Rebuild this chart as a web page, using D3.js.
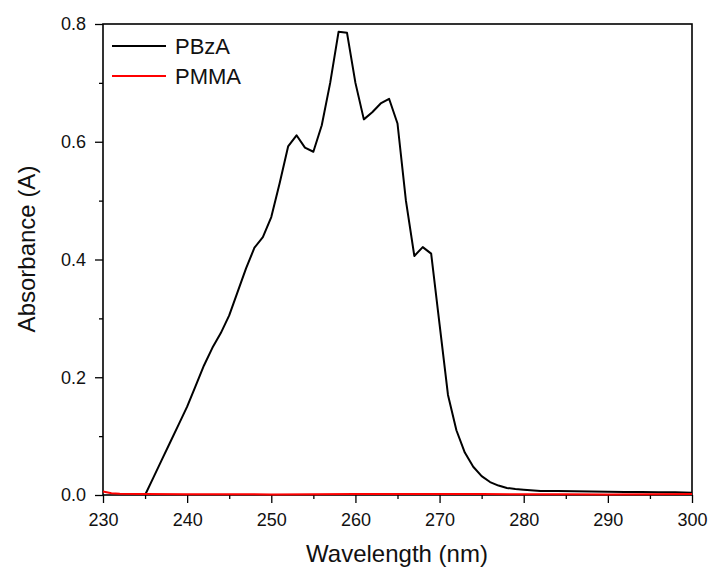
<!DOCTYPE html>
<html>
<head>
<meta charset="utf-8">
<script src="https://cdn.jsdelivr.net/npm/d3@7"></script>
<style>
  body { margin: 0; background: #fff; }
  svg { font-family: "Liberation Sans", Arial, sans-serif; }
</style>
</head>
<body>
<div id="chart"></div>
<script>
// Wavelength (nm) and absorbance values
const pbzaWave = [235, 236, 237, 238, 239, 240, 241, 242, 243, 244, 245, 246, 247, 248, 249,
  250, 251, 252, 253, 254, 255, 256, 257, 258, 259, 260, 261, 262, 263, 264, 265, 266, 267,
  268, 269, 270, 271, 272, 273, 274, 275, 276, 277, 278, 279, 280, 282, 284, 286, 288, 290,
  292, 294, 296, 298, 300];
const pbzaAbs = [0.0, 0.03, 0.06, 0.09, 0.12, 0.15, 0.185, 0.22, 0.25, 0.275, 0.305, 0.345,
  0.385, 0.42, 0.438, 0.472, 0.53, 0.592, 0.611, 0.59, 0.583, 0.628, 0.70, 0.787, 0.785,
  0.70, 0.638, 0.65, 0.665, 0.673, 0.631, 0.50, 0.406, 0.421, 0.41, 0.29, 0.17, 0.11, 0.072,
  0.048, 0.032, 0.022, 0.016, 0.012, 0.010, 0.009, 0.007, 0.007, 0.0065, 0.006, 0.0055,
  0.005, 0.005, 0.0045, 0.0045, 0.004];

const pmmaWave = [230, 231, 232, 235, 240, 245, 250, 255, 260, 265, 270, 275, 280, 285, 290,
  295, 300];
const pmmaAbs = [0.006, 0.003, 0.002, 0.0015, 0.0012, 0.0012, 0.001, 0.0012, 0.0015, 0.0018,
  0.0015, 0.0015, 0.0012, 0.0012, 0.001, 0.0012, 0.0015];

const seriesNames = ["PBzA", "PMMA"];
const seriesColors = ["#000000", "#ff0000"];

const xTicks = [230, 240, 250, 260, 270, 280, 290, 300];
const yTicks = [0.0, 0.2, 0.4, 0.6, 0.8];

const W = 709, H = 569;
const margin = { top: 24, right: 17, bottom: 74, left: 103 };
const width = W - margin.left - margin.right;
const height = H - margin.top - margin.bottom;

const svg = d3.select("#chart").append("svg")
  .attr("width", W)
  .attr("height", H);

const g = svg.append("g")
  .attr("transform", "translate(" + margin.left + "," + margin.top + ")");

const x = d3.scaleLinear().domain([230, 300]).range([0, width]);
const y = d3.scaleLinear().domain([0, 0.8]).range([height, 0]);

// minor ticks
g.append("g")
  .attr("transform", "translate(0," + height + ")")
  .call(d3.axisBottom(x).tickValues(d3.range(235, 300, 10)).tickSize(4).tickFormat(""))
  .call(a => a.select(".domain").remove())
  .call(a => a.selectAll("line").attr("stroke-width", 1.3));
g.append("g")
  .call(d3.axisLeft(y).tickValues([0.1, 0.3, 0.5, 0.7]).tickSize(4).tickFormat(""))
  .call(a => a.select(".domain").remove())
  .call(a => a.selectAll("line").attr("stroke-width", 1.3));

// major axes
const xAxis = g.append("g")
  .attr("transform", "translate(0," + height + ")")
  .call(d3.axisBottom(x).tickValues(xTicks).tickSize(8).tickPadding(10).tickFormat(d3.format("d")));
const yAxis = g.append("g")
  .call(d3.axisLeft(y).tickValues(yTicks).tickSize(8).tickPadding(9).tickFormat(d3.format(".1f")));

[xAxis, yAxis].forEach(a => {
  a.selectAll("text").attr("font-size", 18).attr("fill", "#111")
    .attr("font-family", "Liberation Sans, Arial, sans-serif");
  a.selectAll("line").attr("stroke-width", 1.3);
  a.select(".domain").remove();
});

// frame
g.append("rect")
  .attr("width", width)
  .attr("height", height)
  .attr("fill", "none")
  .attr("stroke", "#000")
  .attr("stroke-width", 1.6);

const line = d3.line()
  .x(d => x(d[0]))
  .y(d => y(d[1]));

const pbza = pbzaWave.map((w, i) => [w, pbzaAbs[i]]);
const pmma = pmmaWave.map((w, i) => [w, pmmaAbs[i]]);

g.append("path")
  .datum(pbza)
  .attr("fill", "none")
  .attr("stroke", seriesColors[0])
  .attr("stroke-width", 2)
  .attr("stroke-linejoin", "round")
  .attr("d", line);

g.append("path")
  .datum(pmma)
  .attr("fill", "none")
  .attr("stroke", seriesColors[1])
  .attr("stroke-width", 2)
  .attr("d", line);

// legend
const legend = g.append("g").attr("transform", "translate(9,22)");
seriesNames.forEach((name, i) => {
  const row = legend.append("g").attr("transform", "translate(0," + (i * 30) + ")");
  row.append("line")
    .attr("x1", 0).attr("x2", 54)
    .attr("stroke", seriesColors[i])
    .attr("stroke-width", 2);
  row.append("text")
    .attr("x", 63)
    .attr("dy", "0.36em")
    .attr("font-size", 22)
    .attr("fill", "#111")
    .text(name);
});

// axis titles
svg.append("text")
  .attr("x", 397)
  .attr("y", 562)
  .attr("text-anchor", "middle")
  .attr("font-size", 24)
  .attr("fill", "#111")
  .text("Wavelength (nm)");

svg.append("text")
  .attr("transform", "translate(35,249) rotate(-90)")
  .attr("text-anchor", "middle")
  .attr("font-size", 24)
  .attr("fill", "#111")
  .text("Absorbance (A)");
</script>
</body>
</html>
